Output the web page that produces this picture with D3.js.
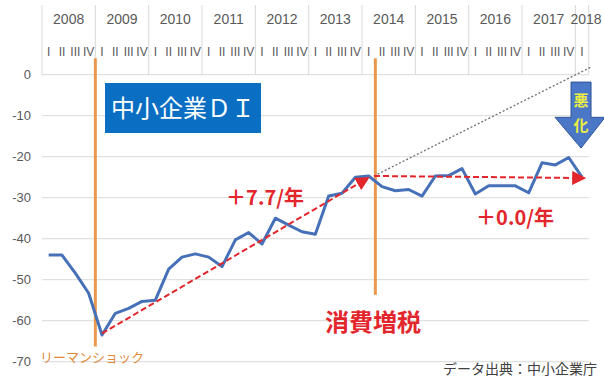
<!DOCTYPE html>
<html>
<head>
<meta charset="utf-8">
<script src="https://cdn.jsdelivr.net/npm/d3@7"></script>
<style>
  body { margin: 0; background: #fff; }
  svg text { font-family: "Liberation Sans", "Noto Sans", sans-serif; }
  .jp { font-family: "Noto Sans CJK JP", sans-serif; }
</style>
</head>
<body>
<div id="chart"></div>
<script>
// quarterly 中小企業 業況判断DI, 2008 Q1 .. 2018 Q1
const years = ["2008","2009","2010","2011","2012","2013","2014","2015","2016","2017","2018"];
const quartersPerYear = [4,4,4,4,4,4,4,4,4,4,1];
const quarterLabels = ["I","II","III","IV"];
const diValues = [
  -44, -44, -48.4, -53.3,
  -63.5, -58.2, -57, -55.3,
  -55, -47.4, -44.5, -43.7,
  -44.5, -46.8, -40.3, -38.5,
  -41.3, -35, -36.7, -38.3,
  -38.9, -29.6, -28.9, -25,
  -24.7, -27.3, -28.3, -28,
  -29.6, -24.7, -24.6, -22.9,
  -29.1, -27.1, -27.1, -27.1,
  -28.8, -21.5, -22, -20.2,
  -25
];
const yTicks = [0, -10, -20, -30, -40, -50, -60, -70];

const width = 604;
const height = 381;

const nQ = d3.sum(quartersPerYear);
const x = d3.scaleLinear().domain([0, nQ]).range([42, 588.7]);
const y = d3.scaleLinear().domain([-70, 0]).range([361.7, 74.7]);

const svg = d3.select("#chart")
    .append("svg")
    .attr("width", width)
    .attr("height", height);

// horizontal gridlines
svg.append("g")
    .selectAll("line")
    .data(yTicks)
    .enter().append("line")
    .attr("x1", x(0)).attr("x2", x(nQ))
    .attr("y1", d => y(d)).attr("y2", d => y(d))
    .attr("stroke", "#d9d9d9")
    .attr("stroke-width", 1);

svg.append("g")
    .selectAll("text")
    .data(yTicks)
    .enter().append("text")
    .attr("x", 31)
    .attr("y", d => y(d))
    .attr("dy", "0.35em")
    .attr("text-anchor", "end")
    .style("font-size", "13px")
    .attr("fill", "#595959")
    .text(d => d);

// header: years + quarters
let start = 0;
const yearBands = years.map((yr, i) => {
    const b = { year: yr, start: start, n: quartersPerYear[i] };
    start += quartersPerYear[i];
    return b;
});

const header = svg.append("g");
header.selectAll("line")
    .data(yearBands.map(d => d.start).concat([nQ]))
    .enter().append("line")
    .attr("x1", d => x(d)).attr("x2", d => x(d))
    .attr("y1", 5).attr("y2", y(0))
    .attr("stroke", "#d9d9d9");

header.selectAll("text.year")
    .data(yearBands)
    .enter().append("text")
    .attr("class", "year")
    .attr("x", d => x(d.start + d.n / 2) + (d.n < 4 ? 4 : 0))
    .attr("y", 19)
    .attr("dy", "0.35em")
    .attr("text-anchor", "middle")
    .style("font-size", "14px")
    .attr("fill", "#595959")
    .text(d => d.year);

const qs = d3.range(nQ);
header.selectAll("text.q")
    .data(qs)
    .enter().append("text")
    .attr("class", "q")
    .attr("x", d => x(d + 0.5))
    .attr("y", 52)
    .attr("dy", "0.35em")
    .attr("text-anchor", "middle")
    .style("font-size", "12px")
    .attr("fill", "#595959")
    .text(d => quarterLabels[d % 4]);

// event lines
const events = [
    { q: 4, top: 4, bottom: -66.3 },
    { q: 25, top: 4, bottom: -53.7 }
];
svg.append("g")
    .selectAll("line")
    .data(events)
    .enter().append("line")
    .attr("x1", d => x(d.q)).attr("x2", d => x(d.q))
    .attr("y1", d => y(d.top)).attr("y2", d => y(d.bottom))
    .attr("stroke", "#e8994f")
    .attr("stroke-width", 3);

// gray dotted extrapolation
const extrap = [[24.9, -24.7], [41.2, 1.9]];
svg.append("path")
    .attr("d", d3.line().x(d => x(d[0])).y(d => y(d[1]))(extrap))
    .attr("fill", "none")
    .attr("stroke", "#6f6f6f")
    .attr("stroke-width", 1.3)
    .attr("stroke-dasharray", "2,2");

// DI line
svg.append("path")
    .datum(diValues)
    .attr("d", d3.line().x((d, i) => x(i + 0.5)).y(d => y(d)))
    .attr("fill", "none")
    .attr("stroke", "#4670b8")
    .attr("stroke-width", 3)
    .attr("stroke-linejoin", "round");

// red trend arrows
svg.append("defs").append("marker")
    .attr("id", "head")
    .attr("viewBox", "0 0 10 10")
    .attr("refX", 8).attr("refY", 5)
    .attr("markerWidth", 7).attr("markerHeight", 7)
    .attr("markerUnits", "strokeWidth")
    .attr("orient", "auto")
    .append("path")
    .attr("d", "M0,0 L10,5 L0,10 Z")
    .attr("fill", "#e3262b");

const trends = [
    [[4.5, -63.1], [24.4, -25.3]],
    [[24.9, -24.7], [40.6, -25.2]]
];
svg.append("g")
    .selectAll("path")
    .data(trends)
    .enter().append("path")
    .attr("d", d3.line().x(d => x(d[0])).y(d => y(d[1])))
    .attr("fill", "none")
    .attr("stroke", "#e3262b")
    .attr("stroke-width", 2)
    .attr("stroke-dasharray", "6,3")
    .attr("marker-end", "url(#head)");

// title box
svg.append("rect")
    .attr("x", 105).attr("y", 83)
    .attr("width", 156).attr("height", 50)
    .attr("fill", "#0a6fc2");
svg.append("text")
    .attr("class", "jp")
    .attr("x", 183).attr("y", 117)
    .attr("text-anchor", "middle")
    .style("font-size", "24px")
    .attr("fill", "#fff")
    .text("中小企業ＤＩ");

// rate labels
svg.append("text")
    .attr("class", "jp")
    .attr("x", 265).attr("y", 205)
    .attr("text-anchor", "middle")
    .style("font-size", "20px")
    .style("font-weight", "bold")
    .attr("fill", "#e3262b")
    .text("＋7.7/年");
svg.append("text")
    .attr("class", "jp")
    .attr("x", 515).attr("y", 225)
    .attr("text-anchor", "middle")
    .style("font-size", "20px")
    .style("font-weight", "bold")
    .attr("fill", "#e3262b")
    .text("＋0.0/年");

// event labels
svg.append("text")
    .attr("class", "jp")
    .attr("x", 40).attr("y", 362)
    .style("font-size", "13px")
    .attr("fill", "#e0893a")
    .text("リーマンショック");
svg.append("text")
    .attr("class", "jp")
    .attr("x", 373).attr("y", 331)
    .attr("text-anchor", "middle")
    .style("font-size", "24px")
    .style("font-weight", "bold")
    .attr("fill", "#e3262b")
    .text("消費増税");

svg.append("text")
    .attr("class", "jp")
    .attr("x", 597).attr("y", 374)
    .attr("text-anchor", "end")
    .style("font-size", "14px")
    .attr("fill", "#404040")
    .text("データ出典：中小企業庁");

// 悪化 down arrow
const ax = x(40.5) - 1;
const arrow = [
    [ax - 10, y(-1.8)], [ax + 10, y(-1.8)], [ax + 10, y(-10.4)],
    [ax + 24, y(-10.4)], [ax, y(-17.9)], [ax - 26, y(-10.4)], [ax - 10, y(-10.4)]
];
svg.append("polygon")
    .attr("points", arrow.map(p => p.join(",")).join(" "))
    .attr("fill", "#4a78c6")
    .attr("stroke", "#2f5597")
    .attr("stroke-width", 1);
svg.append("text")
    .attr("class", "jp")
    .attr("x", ax).attr("y", 106)
    .attr("text-anchor", "middle")
    .style("font-size", "15px")
    .style("font-weight", "bold")
    .attr("fill", "#eeee44")
    .text("悪");
svg.append("text")
    .attr("class", "jp")
    .attr("x", ax).attr("y", 131)
    .attr("text-anchor", "middle")
    .style("font-size", "15px")
    .style("font-weight", "bold")
    .attr("fill", "#eeee44")
    .text("化");
</script>
</body>
</html>
